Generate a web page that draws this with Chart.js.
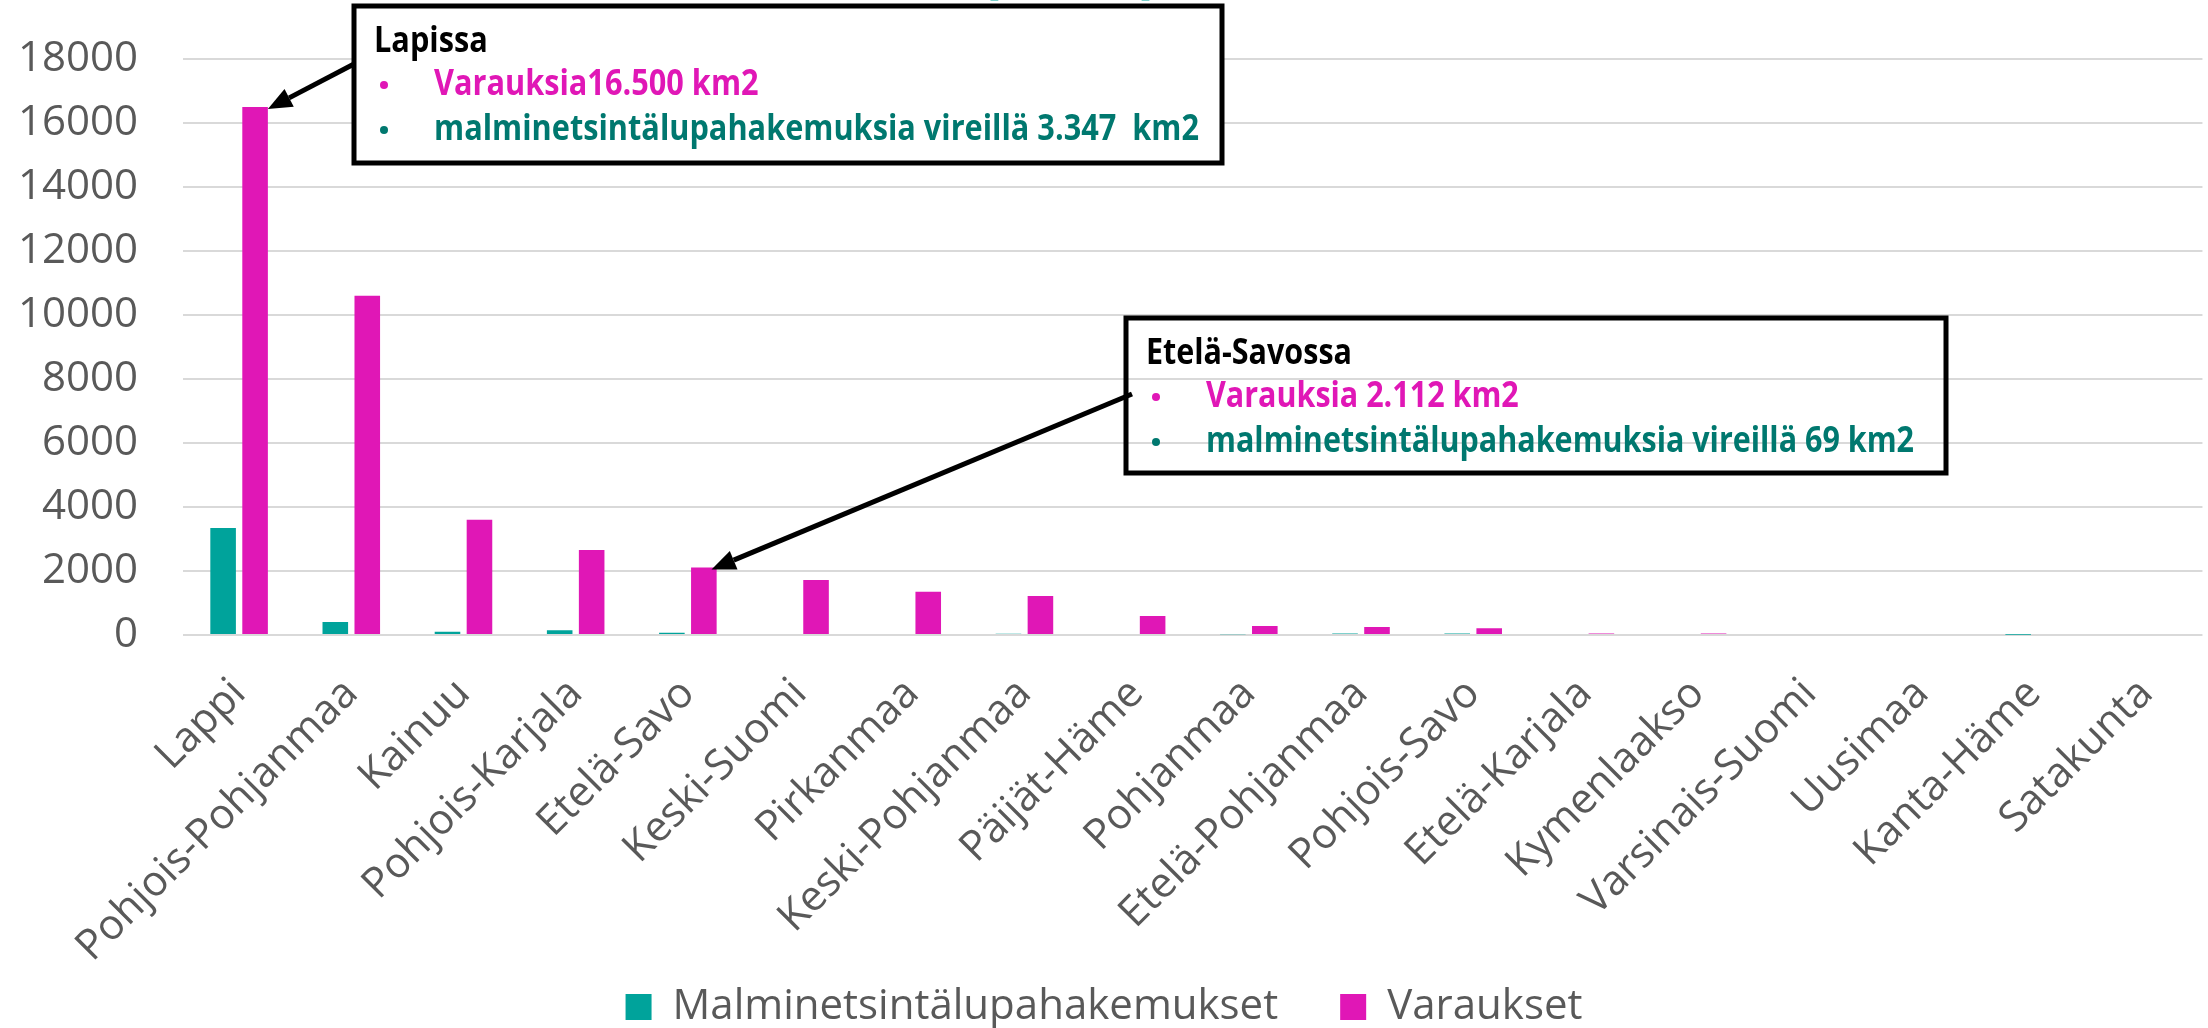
<!DOCTYPE html>
<html lang="fi">
<head>
<meta charset="UTF-8">
<title>Malminetsintälupahakemukset ja varaukset maakunnittain</title>
<style>
    body { margin: 0; padding: 0; background: #fff; }
    #chart { display: block; }
</style>
</head>
<body>
<canvas id="chart" width="2208" height="1028"></canvas>
<script src="https://cdn.jsdelivr.net/npm/chart.js@4.4.0/dist/chart.umd.min.js"></script>
<script>
// data (km2)
const maakunnat = ['Lappi', 'Pohjois-Pohjanmaa', 'Kainuu', 'Pohjois-Karjala', 'Etelä-Savo', 'Keski-Suomi',
    'Pirkanmaa', 'Keski-Pohjanmaa', 'Päijät-Häme', 'Pohjanmaa', 'Etelä-Pohjanmaa', 'Pohjois-Savo',
    'Etelä-Karjala', 'Kymenlaakso', 'Varsinais-Suomi', 'Uusimaa', 'Kanta-Häme', 'Satakunta'];
const malminetsinta = [3347, 410, 105, 150, 69, 0, 0, 40, 0, 20, 50, 50, 0, 0, 0, 0, 5, 0];
const varaukset = [16500, 10600, 3600, 2660, 2112, 1720, 1350, 1220, 590, 280, 250, 210, 50, 50, 0, 0, 0, 0];
const yTicks = [0, 2000, 4000, 6000, 8000, 10000, 12000, 14000, 16000, 18000];

const TEAL = '#00a39b';
const PINK = '#e017b6';
const DARKTEAL = '#00786f';
const GREY = '#595959';
const FONT = '"Open Sans", sans-serif';

// callout boxes pointing at the Varaukset bars
const notes = [
    { index: 0, title: 'Lapissa', pink: 'Varauksia16.500 km2', teal: 'malminetsintälupahakemuksia vireillä 3.347  km2',
      box: [354, 6, 1222, 163], from: [354, 64], tip: 0.5, fill: true, textWidth: 765 },
    { index: 4, title: 'Etelä-Savossa', pink: 'Varauksia 2.112 km2', teal: 'malminetsintälupahakemuksia vireillä 69 km2',
      box: [1126, 318, 1946, 473], from: [1132, 394], tip: 0.3, fill: false, textWidth: 708 }
];

function arrow(ctx, x1, y1, x2, y2) {
    const a = Math.atan2(y2 - y1, x2 - x1);
    const hl = 24, hw = 10;
    const bx = x2 - hl * Math.cos(a), by = y2 - hl * Math.sin(a);
    ctx.beginPath();
    ctx.moveTo(x1, y1);
    ctx.lineTo(bx, by);
    ctx.lineWidth = 5;
    ctx.strokeStyle = '#000';
    ctx.stroke();
    ctx.beginPath();
    ctx.moveTo(x2, y2);
    ctx.lineTo(bx + hw * Math.sin(a), by - hw * Math.cos(a));
    ctx.lineTo(bx - hw * Math.sin(a), by + hw * Math.cos(a));
    ctx.closePath();
    ctx.fillStyle = '#000';
    ctx.fill();
}

// legend sits lower than chart.js would put it, so the x labels keep their room
const legendShift = {
    id: 'legendShift',
    afterLayout(chart) {
        chart.legend.top -= 51;
        chart.legend.bottom -= 51;
    }
};

const calloutPlugin = {
    id: 'callouts',
    afterDraw(chart) {
        const ctx = chart.ctx;
        const meta = chart.getDatasetMeta(1);
        ctx.save();

        // clipped title remnant at the very top
        ctx.font = 'bold 64px ' + FONT;
        ctx.fillStyle = TEAL;
        ctx.textAlign = 'center';
        ctx.textBaseline = 'alphabetic';
        ctx.fillText('(km2)', 1070, -10);

        notes.forEach(n => {
            const [x1, y1, x2, y2] = n.box;
            const bar = meta.data[n.index];
            const tx = bar.x - bar.width / 2 + bar.width * (0.5 + n.tip);
            if (n.fill) {
                ctx.fillStyle = '#fff';
                ctx.fillRect(x1, y1, x2 - x1, y2 - y1);
            }
            ctx.lineWidth = 5;
            ctx.strokeStyle = '#000';
            ctx.strokeRect(x1, y1, x2 - x1, y2 - y1);
            arrow(ctx, n.from[0], n.from[1], tx, bar.y + 2);

            ctx.font = 'bold 35px "Liberation Sans Narrow", ' + FONT;
            const sx = n.textWidth / ctx.measureText(n.teal).width;
            ctx.textAlign = 'left';
            ctx.textBaseline = 'alphabetic';
            const drawLine = (txt, x, y, color) => {
                ctx.save();
                ctx.translate(x, y);
                ctx.scale(sx, 1);
                ctx.fillStyle = color;
                ctx.fillText(txt, 0, 0);
                ctx.restore();
            };
            drawLine(n.title, x1 + 20, y1 + 46, '#000');
            ctx.fillStyle = PINK;
            ctx.beginPath(); ctx.arc(x1 + 30, y1 + 79, 4, 0, Math.PI * 2); ctx.fill();
            drawLine(n.pink, x1 + 80, y1 + 89, PINK);
            ctx.fillStyle = DARKTEAL;
            ctx.beginPath(); ctx.arc(x1 + 30, y1 + 124, 4, 0, Math.PI * 2); ctx.fill();
            drawLine(n.teal, x1 + 80, y1 + 134, DARKTEAL);
        });
        ctx.restore();
    }
};

const ctx = document.getElementById('chart').getContext('2d');
new Chart(ctx, {
    type: 'bar',
    data: {
        labels: maakunnat,
        datasets: [
            { label: 'Malminetsintälupahakemukset', data: malminetsinta, backgroundColor: TEAL },
            { label: 'Varaukset', data: varaukset, backgroundColor: PINK }
        ]
    },
    options: {
        responsive: false,
        animation: false,
        layout: { padding: { top: 59, right: 0, left: 0, bottom: -61 } },
        datasets: { bar: { categoryPercentage: 0.57, barPercentage: 0.8 } },
        plugins: {
            legend: {
                position: 'bottom',
                labels: {
                    boxWidth: 26, boxHeight: 26, padding: 62, color: GREY,
                    font: { family: FONT, size: 42, lineHeight: 1 }
                }
            },
            tooltip: { enabled: false }
        },
        scales: {
            x: {
                grid: { display: false },
                border: { display: false },
                ticks: {
                    color: GREY, maxRotation: 45, minRotation: 45, padding: 26,
                    font: { family: FONT, size: 42 }
                },
                afterFit(scale) { scale.height = 340; }
            },
            y: {
                min: 0, max: 18000,
                grid: { color: '#d9d9d9', lineWidth: 2, drawTicks: false },
                border: { display: false },
                ticks: {
                    color: GREY, padding: 45,
                    font: { family: FONT, size: 42 },
                    callback: v => String(v)
                },
                afterBuildTicks(scale) { scale.ticks = yTicks.map(v => ({ value: v })); },
                afterFit(scale) {
                    scale.width = 183;
                    scale.paddingTop = 0;
                    scale.paddingBottom = 0;
                }
            }
        }
    },
    plugins: [calloutPlugin, legendShift]
});
</script>
</body>
</html>
